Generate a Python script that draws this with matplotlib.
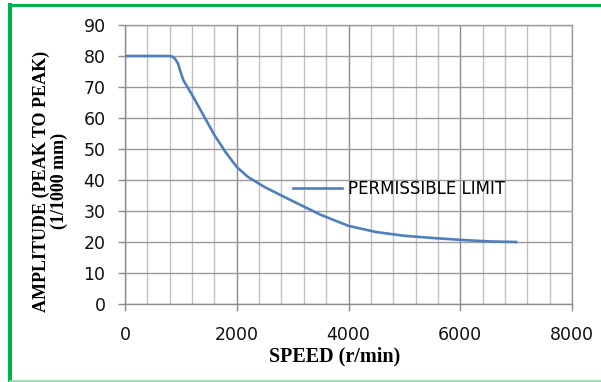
import matplotlib.pyplot as plt
from matplotlib.lines import Line2D
from matplotlib.ticker import MultipleLocator

# curve
speed = [0, 200, 400, 600, 800, 850, 900, 950, 1000, 1050, 1100, 1200, 1400, 1600,
         1800, 2000, 2200, 2500, 3000, 3500, 4000, 4500, 5000, 5500, 6000, 6500, 7000]
amplitude = [80, 80, 80, 80, 80, 79.8, 79, 77.5, 74.5, 72, 70.5, 67.5, 61, 54.5,
             49, 44.2, 41, 37.7, 33.2, 28.8, 25.2, 23.2, 22.0, 21.3, 20.7, 20.2, 20]
xticks = [0, 2000, 4000, 6000, 8000]
yticks = list(range(0, 100, 10))

fig = plt.figure(figsize=(6.01, 3.82), dpi=100)
ax = fig.add_axes([125 / 601, 1 - 304 / 382, 447 / 601, 279 / 382])

ax.plot(speed, amplitude, color="#4f7fbf", linewidth=1.9, label="PERMISSIBLE LIMIT",
        zorder=3)

ax.set_xlim(0, 8000)
ax.set_ylim(0, 90)
ax.set_xticks(xticks)
ax.set_yticks(yticks)
ax.xaxis.set_minor_locator(MultipleLocator(400))
ax.grid(which="major", axis="x", color="#8c8c8c", linewidth=1.0)
ax.grid(which="minor", axis="x", color="#c0c0c0", linewidth=1.0)
ax.grid(which="major", axis="y", color="#9a9a9a", linewidth=1.0)
ax.set_axisbelow(True)
for s in ax.spines.values():
    s.set_color("#9a9a9a")
    s.set_linewidth(1.0)
ax.spines["left"].set_color("#8c8c8c")
ax.spines["bottom"].set_color("#8c8c8c")

ax.tick_params(axis="both", which="major", color="#8c8c8c", length=5, width=1.0,
               labelsize=12.5, labelcolor="#111111")
ax.tick_params(axis="x", which="major", pad=11)
ax.tick_params(axis="x", which="minor", length=0)
ax.tick_params(axis="y", which="major", pad=9)
for lbl in ax.get_xticklabels() + ax.get_yticklabels():
    lbl.set_family("DejaVu Sans")

ax.set_xlabel("SPEED (r/min)", family="Liberation Serif", fontweight="bold",
              fontsize=14.5)
ax.set_ylabel("AMPLITUDE (PEAK TO PEAK)\n(1/1000 mm)", family="Liberation Serif",
              fontweight="bold", fontsize=13, linespacing=1.05)
ax.xaxis.set_label_coords(0.468, -0.152)
ax.yaxis.set_label_coords(-0.128, 0.44)

leg = ax.legend(loc="center left", bbox_to_anchor=(0.362, 0.413), frameon=False,
                prop={"family": "DejaVu Sans", "size": 12}, handlelength=2.9,
                handletextpad=0.4, borderaxespad=0)

# green frame: heavy left and top edges, faint bottom edge
fig.lines.append(Line2D([10 / 601, 10 / 601], [0, 1 - 5 / 382], transform=fig.transFigure,
                        color="#00b050", linewidth=3, solid_capstyle="projecting"))
fig.lines.append(Line2D([10 / 601, 1], [1 - 5 / 382, 1 - 5 / 382], transform=fig.transFigure,
                        color="#00b050", linewidth=2.2))
fig.lines.append(Line2D([10 / 601, 1], [0.6 / 382, 0.6 / 382], transform=fig.transFigure,
                        color="#8fd8a8", linewidth=1.2))

fig.savefig("out.png", dpi=100)
